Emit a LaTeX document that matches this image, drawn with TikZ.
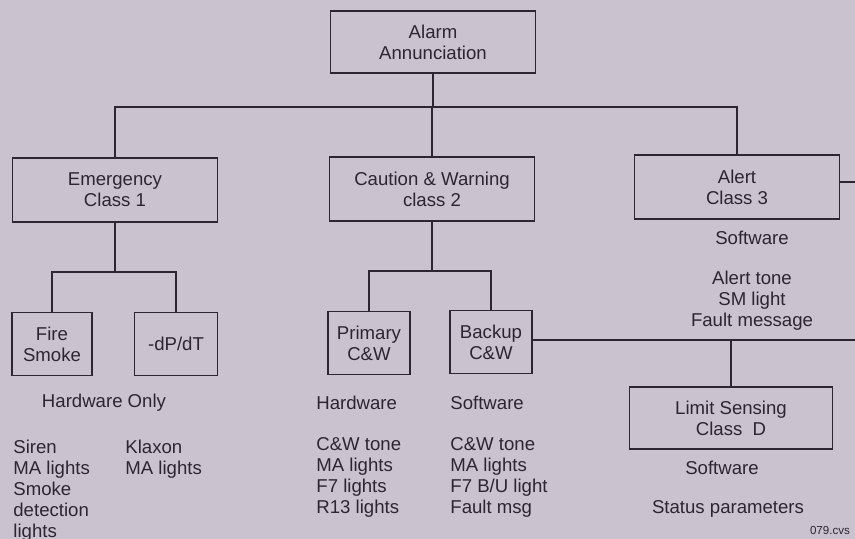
\documentclass[tikz,border=0pt]{standalone}
\usepackage{fontspec}
\setmainfont{Liberation Sans}
\usetikzlibrary{positioning}
\definecolor{pagebg}{HTML}{CBC2D0}
\definecolor{inkgray}{HTML}{2B2630}
\newcommand{\diagfont}{\fontsize{9.3}{10.5}\selectfont}
\tikzset{
  box style/.style={rectangle, draw=inkgray, line width=0.7pt, align=center,
    font=\diagfont, text=inkgray, inner sep=0pt},
  big style/.style={box style, minimum width=102.5pt, minimum height=32pt},
  small style/.style={box style, minimum width=41pt, minimum height=31.5pt},
  txt style/.style={font=\diagfont, text=inkgray, inner sep=0pt},
  list style/.style={txt style, align=left, anchor=north west},
  wire style/.style={draw=inkgray, line width=0.7pt}
}

\begin{document}
\begin{tikzpicture}[x=0.5pt, y=-0.5pt]
\path[use as bounding box, fill=pagebg] (0,0) rectangle (855,539);
% top level
\node[big style, minimum height=31pt] (alarm) at (433,42) {Alarm\\Annunciation};
\node[big style] (emerg)   at (115,190) {Emergency\\Class 1};
\node[big style] (caution) at (432,189) {Caution \& Warning\\class 2};
\node[big style] (alert)   at (737,187) {Alert\\Class 3};
\coordinate (bus) at (433,107);
\draw[wire style] (alarm.south) -- (bus);
\draw[wire style] (emerg.north) |- (bus) -| (alert.north);
\draw[wire style] (caution.north) -- (caution.north |- bus);
\coordinate (rim1) at (855,182);
\draw[wire style] (alert.east |- rim1) -- (rim1);
% emergency branch
\node[small style, minimum width=40pt] (fire) at (52,344) {Fire\\Smoke};
\node[small style, minimum width=41.5pt] (dpdt) at (176,344) {-dP/dT};
\coordinate (ebus) at (115,272);
\draw[wire style] (emerg.south) -- (ebus);
\draw[wire style] (fire.north) |- (ebus) -| (dpdt.north);
% caution branch
\node[small style] (primary) at (369,343) {Primary\\C\&W};
\node[small style] (backup)  at (491,342) {Backup\\C\&W};
\coordinate (cbus) at (432,271);
\draw[wire style] (caution.south) -- (cbus);
\draw[wire style] (primary.north) |- (cbus) -| (backup.north);
\coordinate (rim2) at (855,340);
\draw[wire style] (backup.east |- rim2) -- (rim2);
\node[big style, minimum width=101.5pt, minimum height=31pt] (limit) at (731,418) {Limit Sensing\\Class~~D};
\draw[wire style] (limit.north) -- (limit.north |- rim2);
% texts
\node[txt style] (alsw) at (752,238) {Software};
\node[txt style, align=center] (alout) at (752,301) {Alert tone\\SM light\\Fault message};
\node[txt style] (hwonly) at (104,403) {Hardware Only};
\node[txt style, anchor=west] (pwhw) at (316,403) {Hardware};
\node[txt style, anchor=west] (bksw) at (450,403) {Software};
\node[list style] (firelist) at (13,440) {Siren\\MA lights\\Smoke\\detection\\lights};
\node[list style] (dplist) at (125,440) {Klaxon\\MA lights};
\node[list style] (pwlist) at (316,437) {C\&W tone\\MA lights\\F7 lights\\R13 lights};
\node[list style] (bklist) at (450,437) {C\&W tone\\MA lights\\F7 B/U light\\Fault msg};
\node[txt style] (lmsw) at (722,468) {Software};
\node[txt style] (lmstat) at (728,509) {Status parameters};
\node[txt style, font=\fontsize{5.8}{7}\selectfont] (tag) at (830,531) {079.cvs};
\end{tikzpicture}
\end{document}
